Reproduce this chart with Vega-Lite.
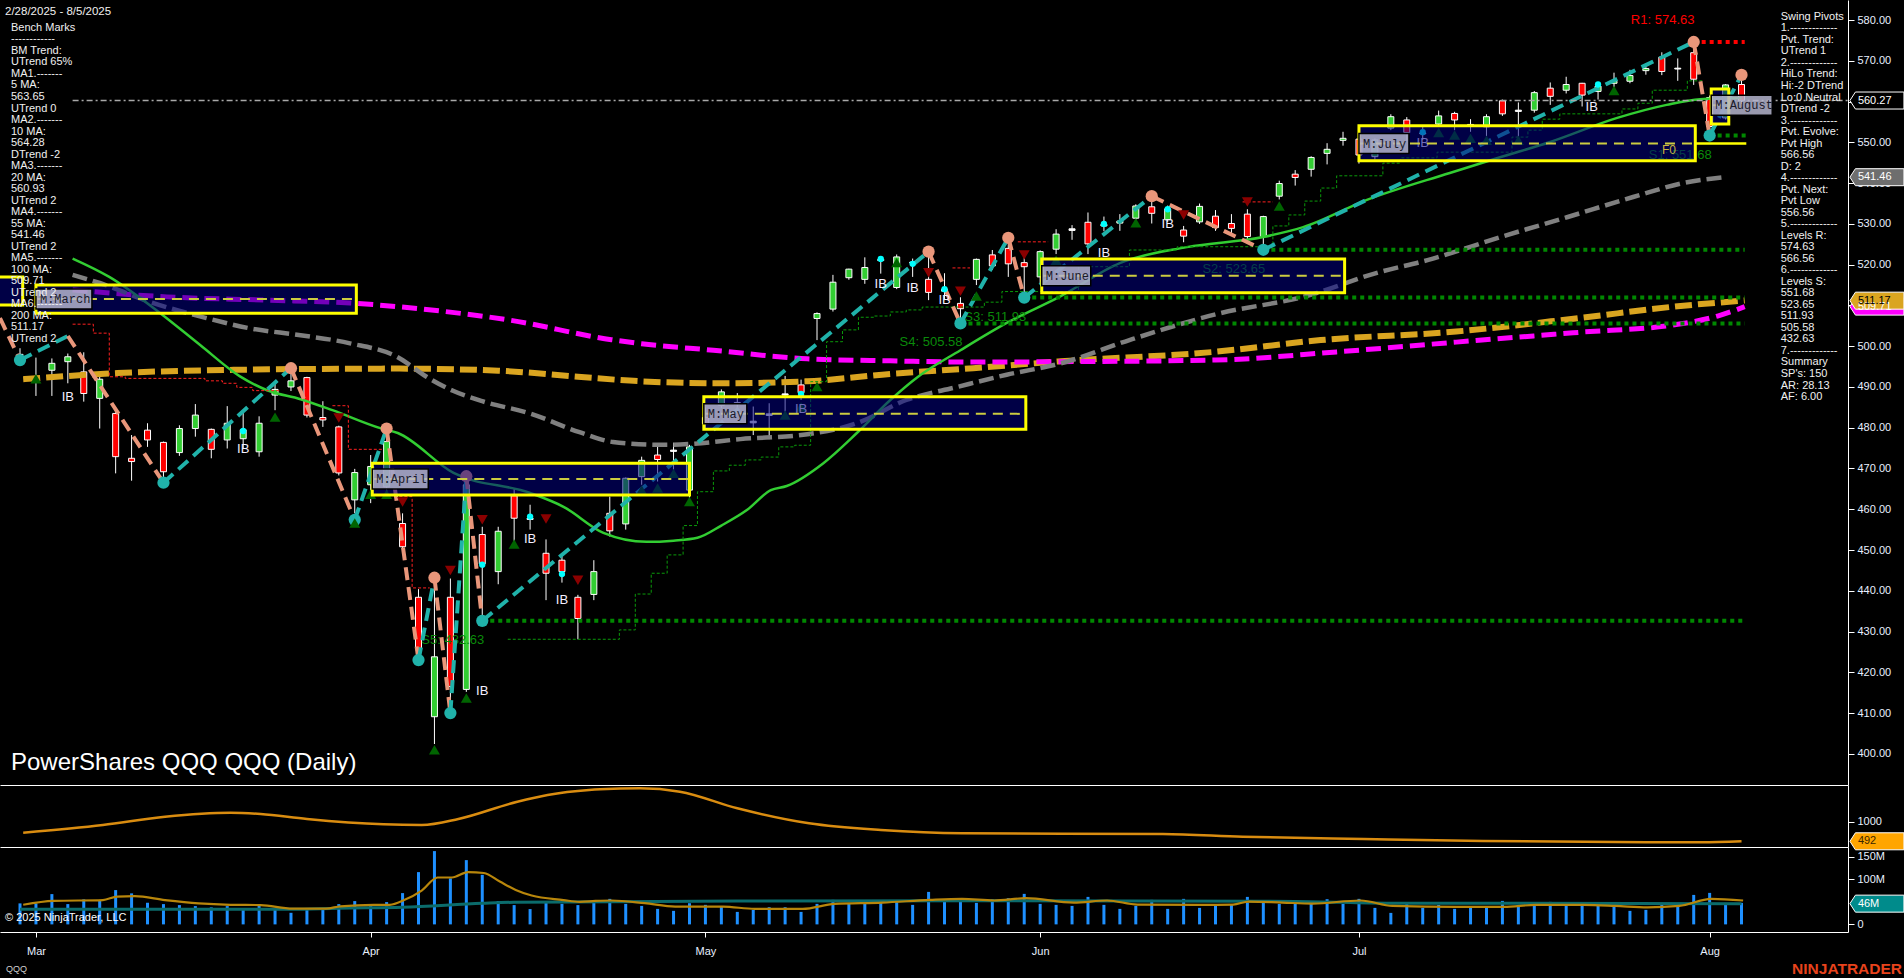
{
"$schema":"https://vega.github.io/schema/vega-lite/v6.json",
"background":"#000000",
"padding":0,
"spacing":0,
"bounds":"flush",
"config":{"view":{"stroke":null},"font":"Liberation Sans","concat":{"spacing":0},
 "axis":{"labelFont":"Liberation Sans","labelFontSize":11,"labelColor":"#e8f0ff","tickColor":"#ffffff","domainColor":"#ffffff","grid":false}},
"datasets":{
"one":[{}],
"bars":[
{"d":"2025-02-28","i":0,"o":498.0,"h":499.5,"l":496.8,"c":497.8,"v":46.6},
{"d":"2025-03-03","i":1,"o":492.5,"h":497.2,"l":487.8,"c":492.2,"v":46.6},
{"d":"2025-03-04","i":2,"o":494.1,"h":497.0,"l":487.8,"c":495.8,"v":67.2},
{"d":"2025-03-05","i":3,"o":496.2,"h":498.2,"l":490.9,"c":497.4,"v":45.0},
{"d":"2025-03-06","i":4,"o":493.7,"h":498.5,"l":486.4,"c":488.4,"v":55.4},
{"d":"2025-03-07","i":5,"o":487.2,"h":492.5,"l":479.8,"c":491.9,"v":53.9},
{"d":"2025-03-10","i":6,"o":483.5,"h":483.8,"l":468.8,"c":472.9,"v":76.1},
{"d":"2025-03-11","i":7,"o":472.5,"h":478.2,"l":467.0,"c":471.7,"v":68.8},
{"d":"2025-03-12","i":8,"o":479.4,"h":481.1,"l":475.3,"c":477.0,"v":48.0},
{"d":"2025-03-13","i":9,"o":476.4,"h":476.6,"l":467.2,"c":469.2,"v":45.0},
{"d":"2025-03-14","i":10,"o":473.9,"h":480.6,"l":473.1,"c":479.8,"v":42.8},
{"d":"2025-03-17","i":11,"o":479.8,"h":485.8,"l":477.8,"c":483.1,"v":40.6},
{"d":"2025-03-18","i":12,"o":479.6,"h":479.8,"l":472.5,"c":474.7,"v":37.7},
{"d":"2025-03-19","i":13,"o":477.0,"h":485.3,"l":474.9,"c":481.1,"v":40.6},
{"d":"2025-03-20","i":14,"o":477.3,"h":484.3,"l":475.0,"c":479.5,"v":35.5},
{"d":"2025-03-21","i":15,"o":474.1,"h":482.8,"l":472.9,"c":481.1,"v":43.5},
{"d":"2025-03-24","i":16,"o":488.0,"h":491.0,"l":484.3,"c":489.4,"v":34.6},
{"d":"2025-03-25","i":17,"o":490.0,"h":494.6,"l":489.0,"c":491.5,"v":25.7},
{"d":"2025-03-26","i":18,"o":492.3,"h":492.5,"l":482.5,"c":483.1,"v":33.3},
{"d":"2025-03-27","i":19,"o":482.5,"h":486.5,"l":480.2,"c":481.9,"v":33.3},
{"d":"2025-03-28","i":20,"o":480.2,"h":480.5,"l":468.3,"c":468.9,"v":45.0},
{"d":"2025-03-31","i":21,"o":462.3,"h":469.9,"l":459.0,"c":469.0,"v":51.7},
{"d":"2025-04-01","i":22,"o":466.0,"h":473.3,"l":461.5,"c":470.5,"v":41.3},
{"d":"2025-04-02","i":23,"o":465.5,"h":478.5,"l":464.0,"c":476.6,"v":49.5},
{"d":"2025-04-03","i":24,"o":456.5,"h":459.0,"l":449.5,"c":450.8,"v":69.4},
{"d":"2025-04-04","i":25,"o":438.4,"h":440.4,"l":423.5,"c":425.5,"v":116.0},
{"d":"2025-04-07","i":26,"o":409.1,"h":440.6,"l":402.4,"c":423.8,"v":162.6},
{"d":"2025-04-08","i":27,"o":438.4,"h":443.0,"l":411.6,"c":416.5,"v":102.0},
{"d":"2025-04-09","i":28,"o":415.8,"h":467.7,"l":415.2,"c":466.0,"v":142.6},
{"d":"2025-04-10","i":29,"o":453.8,"h":455.7,"l":433.2,"c":446.6,"v":110.0},
{"d":"2025-04-11","i":30,"o":444.7,"h":455.7,"l":441.6,"c":454.6,"v":51.7},
{"d":"2025-04-14","i":31,"o":463.3,"h":465.0,"l":452.0,"c":457.8,"v":42.8},
{"d":"2025-04-15","i":32,"o":457.5,"h":461.1,"l":455.0,"c":457.8,"v":34.0},
{"d":"2025-04-16","i":33,"o":449.2,"h":452.6,"l":437.7,"c":444.3,"v":48.8},
{"d":"2025-04-17","i":34,"o":447.5,"h":448.8,"l":442.0,"c":444.7,"v":45.7},
{"d":"2025-04-21","i":35,"o":438.4,"h":439.0,"l":428.1,"c":433.2,"v":42.8},
{"d":"2025-04-22","i":36,"o":439.1,"h":447.5,"l":437.7,"c":444.7,"v":53.2},
{"d":"2025-04-23","i":37,"o":459.0,"h":463.1,"l":453.3,"c":454.7,"v":56.6},
{"d":"2025-04-24","i":38,"o":456.4,"h":467.8,"l":455.0,"c":467.6,"v":45.5},
{"d":"2025-04-25","i":39,"o":468.0,"h":472.9,"l":466.0,"c":472.0,"v":41.0},
{"d":"2025-04-28","i":40,"o":473.3,"h":475.3,"l":466.8,"c":472.2,"v":34.4},
{"d":"2025-04-29","i":41,"o":474.2,"h":476.3,"l":468.8,"c":474.5,"v":30.0},
{"d":"2025-04-30","i":42,"o":464.7,"h":475.8,"l":461.0,"c":475.3,"v":47.0},
{"d":"2025-05-01","i":43,"o":482.5,"h":485.0,"l":479.5,"c":481.0,"v":43.3},
{"d":"2025-05-02","i":44,"o":485.5,"h":489.4,"l":484.8,"c":488.8,"v":39.5},
{"d":"2025-05-05","i":45,"o":486.2,"h":488.5,"l":484.0,"c":485.8,"v":27.7},
{"d":"2025-05-06","i":46,"o":481.2,"h":485.2,"l":478.2,"c":481.6,"v":32.2},
{"d":"2025-05-07","i":47,"o":483.0,"h":486.0,"l":477.2,"c":483.4,"v":38.1},
{"d":"2025-05-08","i":48,"o":488.0,"h":492.7,"l":484.0,"c":488.3,"v":38.1},
{"d":"2025-05-09","i":49,"o":490.5,"h":491.8,"l":486.8,"c":488.6,"v":27.7},
{"d":"2025-05-12","i":50,"o":506.8,"h":508.3,"l":501.5,"c":508.0,"v":45.5},
{"d":"2025-05-13","i":51,"o":509.1,"h":517.5,"l":508.5,"c":515.7,"v":54.4},
{"d":"2025-05-14","i":52,"o":516.8,"h":519.0,"l":516.3,"c":518.9,"v":47.0},
{"d":"2025-05-15","i":53,"o":516.4,"h":521.8,"l":515.3,"c":519.3,"v":49.9},
{"d":"2025-05-16","i":54,"o":521.0,"h":521.9,"l":517.8,"c":521.3,"v":48.4},
{"d":"2025-05-19","i":55,"o":514.4,"h":522.5,"l":514.0,"c":521.9,"v":52.1},
{"d":"2025-05-20","i":56,"o":520.6,"h":521.5,"l":517.0,"c":520.4,"v":43.3},
{"d":"2025-05-21","i":57,"o":516.4,"h":523.0,"l":511.3,"c":513.2,"v":72.1},
{"d":"2025-05-22","i":58,"o":513.5,"h":517.9,"l":511.3,"c":514.0,"v":55.9},
{"d":"2025-05-23","i":59,"o":510.5,"h":512.0,"l":505.6,"c":509.2,"v":58.1},
{"d":"2025-05-27","i":60,"o":516.4,"h":521.5,"l":515.0,"c":521.3,"v":47.7},
{"d":"2025-05-28","i":61,"o":522.4,"h":523.6,"l":518.7,"c":519.7,"v":55.9},
{"d":"2025-05-29","i":62,"o":524.0,"h":526.6,"l":517.0,"c":520.2,"v":58.1},
{"d":"2025-05-30","i":63,"o":520.5,"h":522.6,"l":512.0,"c":519.5,"v":67.7},
{"d":"2025-06-02","i":64,"o":517.0,"h":523.5,"l":515.5,"c":523.2,"v":45.5},
{"d":"2025-06-03","i":65,"o":523.8,"h":528.7,"l":522.6,"c":527.5,"v":43.3},
{"d":"2025-06-04","i":66,"o":528.4,"h":529.7,"l":526.1,"c":528.8,"v":41.0},
{"d":"2025-06-05","i":67,"o":530.4,"h":532.8,"l":522.6,"c":525.1,"v":61.0},
{"d":"2025-06-06","i":68,"o":529.5,"h":531.8,"l":528.2,"c":529.9,"v":43.3},
{"d":"2025-06-09","i":69,"o":530.2,"h":532.4,"l":528.3,"c":530.7,"v":34.4},
{"d":"2025-06-10","i":70,"o":531.4,"h":534.8,"l":530.5,"c":534.4,"v":41.0},
{"d":"2025-06-11","i":71,"o":534.2,"h":536.8,"l":530.1,"c":532.6,"v":54.4},
{"d":"2025-06-12","i":72,"o":531.0,"h":534.5,"l":530.5,"c":533.7,"v":34.4},
{"d":"2025-06-13","i":73,"o":528.5,"h":529.5,"l":525.5,"c":527.0,"v":56.6},
{"d":"2025-06-16","i":74,"o":530.5,"h":535.0,"l":530.0,"c":534.3,"v":36.6},
{"d":"2025-06-17","i":75,"o":531.9,"h":533.4,"l":528.3,"c":529.1,"v":43.3},
{"d":"2025-06-18","i":76,"o":530.1,"h":532.4,"l":527.7,"c":528.9,"v":43.3},
{"d":"2025-06-20","i":77,"o":532.4,"h":533.6,"l":526.0,"c":526.9,"v":61.0},
{"d":"2025-06-23","i":78,"o":526.9,"h":532.0,"l":523.6,"c":531.8,"v":49.9},
{"d":"2025-06-24","i":79,"o":536.8,"h":540.6,"l":536.0,"c":539.9,"v":45.5},
{"d":"2025-06-25","i":80,"o":542.2,"h":543.2,"l":539.4,"c":541.4,"v":45.5},
{"d":"2025-06-26","i":81,"o":543.4,"h":546.6,"l":541.6,"c":546.3,"v":45.5},
{"d":"2025-06-27","i":82,"o":547.3,"h":549.8,"l":544.6,"c":548.3,"v":55.9},
{"d":"2025-06-30","i":83,"o":550.5,"h":552.6,"l":549.2,"c":551.0,"v":45.5},
{"d":"2025-07-01","i":84,"o":550.8,"h":551.5,"l":544.8,"c":546.9,"v":56.6},
{"d":"2025-07-02","i":85,"o":546.5,"h":551.0,"l":545.8,"c":550.6,"v":36.6},
{"d":"2025-07-03","i":86,"o":553.5,"h":556.9,"l":553.0,"c":556.3,"v":25.5},
{"d":"2025-07-07","i":87,"o":555.5,"h":556.2,"l":550.3,"c":552.4,"v":45.5},
{"d":"2025-07-08","i":88,"o":552.3,"h":553.8,"l":550.6,"c":552.1,"v":36.6},
{"d":"2025-07-09","i":89,"o":554.5,"h":557.8,"l":554.0,"c":556.5,"v":43.3},
{"d":"2025-07-10","i":90,"o":557.1,"h":557.5,"l":553.0,"c":555.5,"v":34.4},
{"d":"2025-07-11","i":91,"o":554.4,"h":555.7,"l":552.6,"c":554.2,"v":38.8},
{"d":"2025-07-14","i":92,"o":553.8,"h":556.9,"l":551.5,"c":556.3,"v":36.6},
{"d":"2025-07-15","i":93,"o":560.2,"h":560.5,"l":556.5,"c":557.0,"v":52.1},
{"d":"2025-07-16","i":94,"o":557.6,"h":559.8,"l":550.0,"c":557.9,"v":43.3},
{"d":"2025-07-17","i":95,"o":557.9,"h":562.6,"l":557.3,"c":562.2,"v":41.0},
{"d":"2025-07-18","i":96,"o":563.3,"h":564.7,"l":559.2,"c":561.3,"v":49.9},
{"d":"2025-07-21","i":97,"o":562.8,"h":566.1,"l":562.0,"c":564.2,"v":43.3},
{"d":"2025-07-22","i":98,"o":564.5,"h":564.6,"l":558.8,"c":561.6,"v":43.3},
{"d":"2025-07-23","i":99,"o":562.5,"h":564.3,"l":560.5,"c":563.8,"v":41.0},
{"d":"2025-07-24","i":100,"o":564.5,"h":567.1,"l":563.5,"c":565.0,"v":41.0},
{"d":"2025-07-25","i":101,"o":565.0,"h":567.8,"l":564.5,"c":566.4,"v":30.0},
{"d":"2025-07-28","i":102,"o":567.6,"h":568.7,"l":566.6,"c":568.1,"v":32.2},
{"d":"2025-07-29","i":103,"o":570.9,"h":572.1,"l":566.5,"c":567.4,"v":45.5},
{"d":"2025-07-30","i":104,"o":568.2,"h":570.6,"l":565.1,"c":568.0,"v":45.5},
{"d":"2025-07-31","i":105,"o":572.0,"h":574.63,"l":564.1,"c":565.5,"v":65.4},
{"d":"2025-08-01","i":106,"o":561.0,"h":561.5,"l":550.4,"c":553.9,"v":69.9},
{"d":"2025-08-04","i":107,"o":556.0,"h":564.3,"l":555.6,"c":564.1,"v":47.7},
{"d":"2025-08-05","i":108,"o":564.2,"h":566.56,"l":559.4,"c":560.27,"v":47.7}
],
"ma20":[{"i":3.3,"p":521.5},{"i":5.6,"p":517.0},{"i":8.8,"p":508.1},{"i":11.3,"p":500.3},{"i":13.8,"p":492.6},{"i":15.5,"p":489.2},{"i":17.6,"p":487.0},{"i":19.6,"p":484.3},{"i":22.6,"p":479.9},{"i":23.7,"p":478.7},{"i":27.2,"p":468.9},{"i":32.0,"p":464.0},{"i":34.1,"p":460.6},{"i":36.6,"p":454.2},{"i":39.3,"p":452.0},{"i":41.0,"p":452.3},{"i":42.5,"p":453.0},{"i":44.0,"p":456.0},{"i":45.6,"p":459.8},{"i":47.1,"p":464.7},{"i":48.1,"p":465.7},{"i":50.4,"p":471.3},{"i":52.5,"p":478.7},{"i":54.6,"p":486.8},{"i":56.3,"p":492.4},{"i":59.0,"p":499.0},{"i":61.9,"p":505.7},{"i":65.3,"p":512.3},{"i":69.0,"p":520.4},{"i":73.2,"p":524.3},{"i":78.0,"p":526.8},{"i":80.5,"p":529.2},{"i":84.5,"p":535.9},{"i":89.7,"p":542.5},{"i":92.9,"p":546.4},{"i":96.0,"p":550.1},{"i":100.2,"p":556.0},{"i":103.3,"p":559.2},{"i":105.4,"p":560.6},{"i":108.0,"p":560.9}],
"ma55":[{"i":3.3,"p":517.5},{"i":5.0,"p":515.5},{"i":8.2,"p":510.8},{"i":11.7,"p":506.9},{"i":14.4,"p":504.4},{"i":17.6,"p":502.7},{"i":20.7,"p":500.7},{"i":23.7,"p":497.3},{"i":25.5,"p":492.5},{"i":27.2,"p":489.0},{"i":29.0,"p":486.5},{"i":32.0,"p":483.5},{"i":35.1,"p":478.9},{"i":37.2,"p":476.5},{"i":40.4,"p":475.8},{"i":42.0,"p":476.0},{"i":45.2,"p":477.2},{"i":49.4,"p":478.4},{"i":52.5,"p":481.1},{"i":55.6,"p":486.8},{"i":58.8,"p":490.0},{"i":61.9,"p":493.0},{"i":65.3,"p":495.8},{"i":69.6,"p":501.5},{"i":75.3,"p":508.1},{"i":80.5,"p":512.1},{"i":85.3,"p":518.2},{"i":88.3,"p":521.1},{"i":92.9,"p":526.8},{"i":97.1,"p":531.7},{"i":101.2,"p":536.6},{"i":104.3,"p":540.0},{"i":107.0,"p":541.5}],
"ma100":[{"i":3.3,"p":513.8},{"i":9.2,"p":512.1},{"i":15.5,"p":511.3},{"i":20.7,"p":510.6},{"i":25.0,"p":509.2},{"i":30.7,"p":506.4},{"i":37.1,"p":501.6},{"i":39.0,"p":500.6},{"i":43.5,"p":499.0},{"i":49.4,"p":496.9},{"i":54.6,"p":496.4},{"i":59.8,"p":496.1},{"i":65.3,"p":496.2},{"i":75.0,"p":496.6},{"i":82.6,"p":498.6},{"i":90.1,"p":501.0},{"i":97.8,"p":503.4},{"i":103.9,"p":505.3},{"i":106.5,"p":507.4},{"i":108.2,"p":509.7}],
"ma200":[{"i":0.2,"p":491.9},{"i":6.1,"p":493.4},{"i":13.4,"p":494.2},{"i":23.8,"p":494.5},{"i":30.0,"p":494.0},{"i":35.0,"p":492.5},{"i":38.9,"p":491.4},{"i":44.1,"p":490.9},{"i":49.4,"p":491.4},{"i":54.6,"p":493.2},{"i":59.8,"p":494.6},{"i":65.3,"p":496.3},{"i":74.9,"p":498.6},{"i":81.6,"p":501.5},{"i":90.1,"p":503.6},{"i":97.8,"p":506.9},{"i":104.0,"p":509.8},{"i":108.2,"p":511.2}],
"gstep":[{"i":30.6,"p":428.1},{"i":37.6,"p":430.4},{"i":38.6,"p":439.2},{"i":39.6,"p":444.3},{"i":40.6,"p":448.8},{"i":41.6,"p":456.0},{"i":42.5,"p":464.3},{"i":43.5,"p":469.4},{"i":44.5,"p":470.8},{"i":45.5,"p":472.1},{"i":46.5,"p":472.8},{"i":47.6,"p":475.3},{"i":48.6,"p":475.7},{"i":49.6,"p":491.3},{"i":50.6,"p":501.1},{"i":51.6,"p":504.0},{"i":52.6,"p":507.1},{"i":53.6,"p":507.4},{"i":54.6,"p":508.4},{"i":55.6,"p":508.9},{"i":56.6,"p":509.6},{"i":60.5,"p":510.8},{"i":61.6,"p":513.4},{"i":66.4,"p":519.5},{"i":69.6,"p":523.6},{"i":72.6,"p":524.4},{"i":78.6,"p":529.5},{"i":79.6,"p":532.2},{"i":80.6,"p":535.6},{"i":81.6,"p":538.8},{"i":82.6,"p":541.8},{"i":85.5,"p":544.9},{"i":86.6,"p":546.2},{"i":88.9,"p":547.6},{"i":93.6,"p":551.3},{"i":94.6,"p":553.0},{"i":95.5,"p":555.7},{"i":96.6,"p":557.0},{"i":100.5,"p":558.2},{"i":101.5,"p":559.6},{"i":102.4,"p":562.8},{"i":104.6,"p":565.1},{"i":105.6,"p":565.1}],
"rstep":[{"g":"a","i":3.3,"p":505.4},{"g":"a","i":4.6,"p":503.2},{"g":"a","i":5.6,"p":492.5},{"g":"a","i":6.6,"p":492.1},{"g":"a","i":11.6,"p":491.5},{"g":"a","i":12.7,"p":490.9},{"g":"a","i":13.6,"p":489.9},{"g":"a","i":14.6,"p":489.1},{"g":"a","i":16.3,"p":489.1},
 {"g":"b","i":19.6,"p":485.4},{"g":"b","i":20.6,"p":474.7},{"g":"b","i":22.8,"p":474.7},
 {"g":"c","i":23.8,"p":463.1},{"g":"c","i":24.6,"p":440.7},{"g":"c","i":25.7,"p":440.7},
 {"g":"d","i":58.5,"p":519.2},{"g":"d","i":59.6,"p":519.2},
 {"g":"e","i":62.6,"p":525.6},{"g":"e","i":64.5,"p":525.6},
 {"g":"f","i":76.7,"p":535.4},{"g":"f","i":78.6,"p":535.4}],
"lev":[{"side":"S","txt":"S5: 432.63","val":432.63,"i":29,"i2":108.2},{"side":"S","txt":"S4: 505.58","val":505.58,"i":59,"i2":108.2},{"side":"S","txt":"S3: 511.93","val":511.93,"i":63,"i2":108.2},{"side":"S","txt":"S2: 523.65","val":523.65,"i":78,"i2":108.2},{"side":"S","txt":"S1: 551.68","val":551.68,"i":106,"i2":108.3},{"side":"R","txt":"R1: 574.63","val":574.63,"i":105.5,"i2":108.2}],
"zig":[{"a":-1.255,"pa":506.9,"b":0,"pb":496.6,"dir":"dn"},{"a":0,"pa":496.6,"b":3,"pb":502.5,"dir":"up"},{"a":3,"pa":502.5,"b":9,"pb":466.5,"dir":"dn"},{"a":9,"pa":466.5,"b":17,"pb":494.6,"dir":"up"},{"a":17,"pa":494.6,"b":21,"pb":457.4,"dir":"dn"},{"a":21,"pa":457.4,"b":23,"pb":479.8,"dir":"up"},{"a":23,"pa":479.8,"b":25,"pb":423.0,"dir":"dn"},{"a":25,"pa":423.0,"b":26,"pb":443.2,"dir":"up"},{"a":26,"pa":443.2,"b":27,"pb":410.0,"dir":"dn"},{"a":27,"pa":410.0,"b":28,"pb":468.1,"dir":"up"},{"a":28,"pa":468.1,"b":29,"pb":432.63,"dir":"dn"},{"a":29,"pa":432.63,"b":57,"pb":523.2,"dir":"up"},{"a":57,"pa":523.2,"b":59,"pb":505.58,"dir":"dn"},{"a":59,"pa":505.58,"b":62,"pb":526.6,"dir":"up"},{"a":62,"pa":526.6,"b":63,"pb":511.93,"dir":"dn"},{"a":63,"pa":511.93,"b":71,"pb":536.8,"dir":"up"},{"a":71,"pa":536.8,"b":78,"pb":523.65,"dir":"dn"},{"a":78,"pa":523.65,"b":105,"pb":574.63,"dir":"up"},{"a":105,"pa":574.63,"b":106,"pb":551.68,"dir":"dn"},{"a":106,"pa":551.68,"b":108,"pb":566.56,"dir":"up"}],
"piv":[{"i":0,"p":496.6,"t":"L"},{"i":9,"p":466.5,"t":"L"},{"i":21,"p":457.4,"t":"L"},{"i":25,"p":423.0,"t":"L"},{"i":27,"p":410.0,"t":"L"},{"i":29,"p":432.63,"t":"L"},{"i":59,"p":505.58,"t":"L"},{"i":63,"p":511.93,"t":"L"},{"i":78,"p":523.65,"t":"L"},{"i":106,"p":551.68,"t":"L"},{"i":17,"p":494.6,"t":"H"},{"i":23,"p":479.8,"t":"H"},{"i":26,"p":443.2,"t":"H"},{"i":28,"p":468.1,"t":"H"},{"i":57,"p":523.2,"t":"H"},{"i":62,"p":526.6,"t":"H"},{"i":71,"p":536.8,"t":"H"},{"i":105,"p":574.63,"t":"H"},{"i":108,"p":566.56,"t":"H"}],
"tri":[{"i":1,"p":492.0,"t":"up"},{"i":16,"p":482.6,"t":"up"},{"i":21,"p":456.6,"t":"up"},{"i":22,"p":463.7,"t":"up"},{"i":23,"p":463.7,"t":"up"},{"i":26,"p":401.0,"t":"up"},{"i":28,"p":413.7,"t":"up"},{"i":31,"p":451.5,"t":"up"},{"i":39,"p":464.7,"t":"up"},{"i":40,"p":465.2,"t":"up"},{"i":41,"p":468.8,"t":"up"},{"i":42,"p":461.9,"t":"up"},{"i":48,"p":483.1,"t":"up"},{"i":49,"p":485.1,"t":"up"},{"i":50,"p":490.1,"t":"up"},{"i":55,"p":520.5,"t":"up"},{"i":60,"p":512.3,"t":"up"},{"i":65,"p":521.1,"t":"up"},{"i":70,"p":530.3,"t":"up"},{"i":79,"p":534.4,"t":"up"},{"i":89,"p":552.4,"t":"up"},{"i":90,"p":551.8,"t":"up"},{"i":91,"p":551.0,"t":"up"},{"i":92,"p":550.5,"t":"up"},{"i":94,"p":550.5,"t":"up"},{"i":100,"p":562.7,"t":"up"},
 {"i":20,"p":482.4,"t":"dn"},{"i":24,"p":461.8,"t":"dn"},{"i":27,"p":445.0,"t":"dn"},{"i":29,"p":457.4,"t":"dn"},{"i":33,"p":457.6,"t":"dn"},{"i":35,"p":442.6,"t":"dn"},{"i":57,"p":518.0,"t":"dn"},{"i":59,"p":513.5,"t":"dn"},{"i":63,"p":522.4,"t":"dn"},{"i":73,"p":532.2,"t":"dn"},{"i":77,"p":535.4,"t":"dn"}],
"ib":[{"i":3,"p":487.5},{"i":14,"p":474.8},{"i":29,"p":415.4},{"i":32,"p":452.7},{"i":34,"p":437.7},{"i":49,"p":484.6},{"i":54,"p":515.3},{"i":56,"p":514.3},{"i":58,"p":511.3},{"i":68,"p":522.8},{"i":72,"p":529.9},{"i":88,"p":549.8},{"i":98.6,"p":558.7}],
"cy":[{"i":14,"p":479.2},{"i":29,"p":446.4},{"i":32,"p":458.2},{"i":34,"p":444.1},{"i":49,"p":488.3},{"i":54,"p":521.4},{"i":56,"p":520.2},{"i":58,"p":514.0},{"i":68,"p":530.0},{"i":72,"p":533.6},{"i":88,"p":552.5},{"i":99,"p":564.2}],
"boxes":[{"m":"M:March","i1":1.0,"i2":21.1,"top":515.0,"bot":508.1,"mid":511.6},{"m":"M:April","i1":22.1,"i2":42.0,"top":471.3,"bot":463.5,"mid":467.4},{"m":"M:May","i1":42.9,"i2":63.1,"top":487.6,"bot":479.6,"mid":483.4},{"m":"M:June","i1":64.1,"i2":83.1,"top":521.4,"bot":513.1,"mid":517.3},{"m":"M:July","i1":84.0,"i2":105.1,"top":554.1,"bot":545.5,"mid":549.7},{"m":"M:August","i1":106.1,"i2":107.2,"top":563.1,"bot":554.5,"mid":559.1}],
"prevbox":[{"m":"M:February","i1":-3.0,"i2":0.17,"top":517.0,"bot":510.1,"mid":513.5}],
"tags":[{"k":"close","p":560.27,"t":"560.27"},{"k":"ma55","p":541.46,"t":"541.46"},{"k":"ma100","p":509.71,"t":"509.71"},{"k":"ma200","p":511.17,"t":"511.17"}],
"osc":[{"i":0.2,"v":715},{"i":5.2,"v":914},{"i":9.1,"v":1130},{"i":13.2,"v":1233},{"i":15.1,"v":1200},{"i":18.0,"v":1070},{"i":22.8,"v":932},{"i":25.2,"v":914},{"i":27.5,"v":1070},{"i":31.2,"v":1518},{"i":33.1,"v":1692},{"i":35.7,"v":1822},{"i":36.4,"v":1840},{"i":38.9,"v":1866},{"i":41.4,"v":1778},{"i":45.0,"v":1347},{"i":49.5,"v":958},{"i":54.0,"v":785},{"i":59.1,"v":699},{"i":71.7,"v":681},{"i":76.7,"v":611},{"i":84.3,"v":552},{"i":91.8,"v":500},{"i":102.0,"v":466},{"i":105.5,"v":466},{"i":108.0,"v":492}],
"vma":[{"i":0.2,"v":43.5},{"i":2.1,"v":52},{"i":5.2,"v":53.9},{"i":6.1,"v":61.7},{"i":7.2,"v":62.5},{"i":9.1,"v":53.9},{"i":11.2,"v":46.6},{"i":13.2,"v":43.5},{"i":15.1,"v":42.8},{"i":17.1,"v":35},{"i":19.2,"v":35},{"i":20.1,"v":40.1},{"i":22.2,"v":43.5},{"i":23.2,"v":43.5},{"i":24.1,"v":53.9},{"i":25.2,"v":75},{"i":26.2,"v":104},{"i":27.1,"v":104},{"i":28.1,"v":115.8},{"i":29.1,"v":114},{"i":30.1,"v":95},{"i":31.1,"v":76.5},{"i":32.1,"v":64},{"i":34.1,"v":54},{"i":35.1,"v":50},{"i":36.1,"v":52},{"i":37.1,"v":53},{"i":39.2,"v":47},{"i":41.1,"v":39.5},{"i":44.1,"v":39.5},{"i":46.1,"v":34.4},{"i":49.1,"v":34.4},{"i":51.1,"v":45.5},{"i":54.1,"v":48.4},{"i":57.1,"v":54.4},{"i":59.1,"v":56.6},{"i":61.1,"v":53},{"i":63.1,"v":58.1},{"i":66.1,"v":48.4},{"i":68.2,"v":53},{"i":70.1,"v":44},{"i":74.1,"v":43.3},{"i":76.1,"v":44},{"i":77.1,"v":50.7},{"i":79.2,"v":48.4},{"i":81.1,"v":46.2},{"i":84.1,"v":53},{"i":86.1,"v":41},{"i":90.1,"v":38.8},{"i":93.1,"v":38.8},{"i":95.1,"v":43.3},{"i":98.1,"v":43.3},{"i":100.1,"v":41},{"i":102.1,"v":37.7},{"i":104.1,"v":41},{"i":106.1,"v":56.6},{"i":108.1,"v":53}],
"vlong":[{"i":0,"v":33.5},{"i":17,"v":33.5},{"i":20,"v":36},{"i":24,"v":38},{"i":29,"v":46.8},{"i":31,"v":49},{"i":37,"v":50},{"i":45,"v":52},{"i":60,"v":52.5},{"i":80,"v":51},{"i":86,"v":47},{"i":108,"v":46}]
},
"vconcat":[
{"width":1848,"height":785,
 "resolve":{"scale":{"fill":"independent","color":"independent","shape":"independent","stroke":"independent"}},
 "layer":[
  {"data":{"name":"bars"},"mark":{"type":"rule","color":"#ffffff","strokeWidth":1},
   "encoding":{"x":{"field":"i","type":"quantitative","scale":{"domain":[-1.255,114.68],"nice":false,"zero":false,"padding":0},"axis":{"orient":"bottom","labels":false,"ticks":false,"domain":true,"title":null}},
    "y":{"field":"l","type":"quantitative","scale":{"domain":[392.35,584.93],"nice":false,"zero":false,"padding":0},"axis":{"orient":"right","values":[400,410,420,430,440,450,460,470,480,490,500,510,520,530,540,550,560,570,580],"format":".2f","tickSize":6,"labelPadding":3,"title":null}},
    "y2":{"field":"h"}}},
  {"data":{"name":"bars"},"mark":{"type":"bar","width":6,"stroke":"#ffffff","strokeWidth":1},
   "encoding":{"x":{"field":"i","type":"quantitative"},"y":{"field":"o","type":"quantitative"},"y2":{"field":"c"},
    "fill":{"condition":[{"test":"abs(datum.c-datum.o)<0.5","value":"#ffffff"},{"test":"datum.c>datum.o","value":"#32cd32"}],"value":"#ff0000"}}},
  {"data":{"name":"ma200"},"mark":{"type":"line","color":"#daa520","strokeWidth":6,"strokeDash":[17,6],"interpolate":"monotone"},
   "encoding":{"x":{"field":"i","type":"quantitative"},"y":{"field":"p","type":"quantitative"}}},
  {"data":{"name":"ma100"},"mark":{"type":"line","color":"#ff00ff","strokeWidth":5,"strokeDash":[15,7],"interpolate":"monotone"},
   "encoding":{"x":{"field":"i","type":"quantitative"},"y":{"field":"p","type":"quantitative"}}},
  {"data":{"name":"ma55"},"mark":{"type":"line","color":"#808080","strokeWidth":4.5,"strokeDash":[15,6],"interpolate":"monotone"},
   "encoding":{"x":{"field":"i","type":"quantitative"},"y":{"field":"p","type":"quantitative"}}},
  {"data":{"name":"ma20"},"mark":{"type":"line","color":"#32cd32","strokeWidth":2.5,"interpolate":"monotone"},
   "encoding":{"x":{"field":"i","type":"quantitative"},"y":{"field":"p","type":"quantitative"}}},
  {"data":{"name":"gstep"},"mark":{"type":"line","color":"#0a9a0a","strokeWidth":1,"strokeDash":[3,2],"interpolate":"step-after"},
   "encoding":{"x":{"field":"i","type":"quantitative"},"y":{"field":"p","type":"quantitative"}}},
  {"data":{"name":"rstep"},"mark":{"type":"line","color":"#ff2020","strokeWidth":1,"strokeDash":[3,2],"interpolate":"step-after"},
   "encoding":{"x":{"field":"i","type":"quantitative"},"y":{"field":"p","type":"quantitative"},"detail":{"field":"g"}}},
  {"data":{"name":"lev"},"mark":{"type":"rule","strokeWidth":4,"strokeDash":[4,4]},
   "encoding":{"x":{"field":"i","type":"quantitative"},"x2":{"field":"i2"},"y":{"field":"val","type":"quantitative"},
    "color":{"field":"side","type":"nominal","scale":{"domain":["S","R"],"range":["#008800","#ff0000"]},"legend":null}}},
  {"data":{"name":"lev"},"transform":[{"filter":"datum.side=='S'"}],"mark":{"type":"text","align":"right","baseline":"middle","fontSize":13,"dx":2,"dy":19,"color":"#0a8a0a"},
   "encoding":{"x":{"field":"i","type":"quantitative"},"y":{"field":"val","type":"quantitative"},"text":{"field":"txt"}}},
  {"data":{"name":"zig"},"mark":{"type":"rule","strokeWidth":4,"strokeDash":[13,7],"clip":true},
   "encoding":{"x":{"field":"a","type":"quantitative"},"x2":{"field":"b"},"y":{"field":"pa","type":"quantitative"},"y2":{"field":"pb"},
    "color":{"field":"dir","type":"nominal","scale":{"domain":["up","dn"],"range":["#20b2aa","#e9967a"]},"legend":null}}},
  {"data":{"name":"piv"},"mark":{"type":"point","shape":"circle","filled":true,"size":150,"opacity":1},
   "encoding":{"x":{"field":"i","type":"quantitative"},"y":{"field":"p","type":"quantitative"},
    "fill":{"field":"t","type":"nominal","scale":{"domain":["H","L"],"range":["#e9967a","#20b2aa"]},"legend":null}}},
  {"data":{"name":"tri"},"mark":{"type":"point","filled":true,"size":120,"opacity":1},
   "encoding":{"x":{"field":"i","type":"quantitative"},"y":{"field":"p","type":"quantitative"},
    "shape":{"field":"t","type":"nominal","scale":{"domain":["up","dn"],"range":["triangle-up","triangle-down"]},"legend":null},
    "color":{"field":"t","type":"nominal","scale":{"domain":["up","dn"],"range":["#006400","#8b0000"]},"legend":null}}},
  {"data":{"name":"cy"},"mark":{"type":"point","filled":true,"size":40,"color":"#00ffff","opacity":1},
   "encoding":{"x":{"field":"i","type":"quantitative"},"y":{"field":"p","type":"quantitative"}}},
  {"data":{"name":"ib"},"mark":{"type":"text","text":"IB","fontSize":13,"color":"#f4efff","baseline":"middle","align":"center"},
   "encoding":{"x":{"field":"i","type":"quantitative"},"y":{"field":"p","type":"quantitative"}}},
  {"data":{"name":"one"},"mark":{"type":"rule","color":"#a8a8a8","strokeWidth":1.5,"strokeDash":[6,3,2,3]},
   "encoding":{"x":{"datum":3.3,"type":"quantitative"},"x2":{"datum":114.68},"y":{"datum":560.27,"type":"quantitative"}}},
  {"data":{"name":"prevbox"},"mark":{"type":"rect","fill":"#000080","fillOpacity":0.55,"stroke":"#ffff00","strokeWidth":3,"clip":true},
   "encoding":{"x":{"field":"i1","type":"quantitative"},"x2":{"field":"i2"},"y":{"field":"top","type":"quantitative"},"y2":{"field":"bot"}}},
  {"data":{"name":"boxes"},"mark":{"type":"rect","fill":"#000080","fillOpacity":0.55,"stroke":"#ffff00","strokeWidth":3},
   "encoding":{"x":{"field":"i1","type":"quantitative"},"x2":{"field":"i2"},"y":{"field":"top","type":"quantitative"},"y2":{"field":"bot"}}},
  {"data":{"name":"boxes"},"mark":{"type":"rule","color":"#cccc40","strokeWidth":2,"strokeDash":[10,7]},
   "encoding":{"x":{"field":"i1","type":"quantitative"},"x2":{"field":"i2"},"y":{"field":"mid","type":"quantitative"}}},
  {"data":{"name":"one"},"mark":{"type":"rule","color":"#ffff00","strokeWidth":2.5},
   "encoding":{"x":{"datum":105.1,"type":"quantitative"},"x2":{"datum":108.3},"y":{"datum":549.7,"type":"quantitative"}}},
  {"data":{"name":"boxes"},"mark":{"type":"point","filled":true,"size":400,"fill":"#b4b4cc","fillOpacity":0.85,"stroke":"#000000","strokeWidth":1.5,"strokeOpacity":1},
   "encoding":{"x":{"field":"i1","type":"quantitative"},"y":{"field":"mid","type":"quantitative"},
    "shape":{"field":"m","type":"nominal","scale":{"domain":["M:March","M:April","M:May","M:June","M:July","M:August"],"range":["M0,-1H5.6V1H0Z","M0,-1H5.6V1H0Z","M0,-1H4.3V1H0Z","M0,-1H4.9V1H0Z","M0,-1H5.0V1H0Z","M0,-1H6.1V1H0Z"]},"legend":null}}},
  {"data":{"name":"boxes"},"mark":{"type":"text","font":"Liberation Mono","fontSize":12,"color":"#1a1a2a","align":"left","baseline":"middle","dx":4},
   "encoding":{"x":{"field":"i1","type":"quantitative"},"y":{"field":"mid","type":"quantitative"},"text":{"field":"m"}}},
  {"data":{"name":"lev"},"transform":[{"filter":"datum.side=='R'"}],"mark":{"type":"text","align":"center","baseline":"middle","fontSize":13,"dx":-39,"dy":-22,"color":"#ff0000"},
   "encoding":{"x":{"field":"i","type":"quantitative"},"y":{"field":"val","type":"quantitative"},"text":{"field":"txt"}}},
  {"data":{"name":"one"},"mark":{"type":"text","text":"F0","fontSize":12,"color":"#c8b440","align":"center","baseline":"middle"},
   "encoding":{"x":{"datum":103.45,"type":"quantitative"},"y":{"datum":548.1,"type":"quantitative"}}},
  {"data":{"name":"one"},"mark":{"type":"text","text":"2/28/2025 - 8/5/2025","fontSize":11.5,"color":"#f0f0f0","align":"left","baseline":"top"},
   "encoding":{"x":{"datum":-0.94,"type":"quantitative"},"y":{"datum":583.46,"type":"quantitative"}}},
  {"data":{"name":"one"},"mark":{"type":"text","fontSize":11,"lineHeight":11.52,"color":"#f0f0f0","align":"left","baseline":"top",
    "text":["Bench Marks","------------","BM Trend:","UTrend 65%","MA1.-------","5 MA:","563.65","UTrend 0","MA2.-------","10 MA:","564.28","DTrend -2","MA3.-------","20 MA:","560.93","UTrend 2","MA4.-------","55 MA:","541.46","UTrend 2","MA5.-------","100 MA:","509.71","UTrend 2","MA6.-------","200 MA:","511.17","UTrend 2"]},
   "encoding":{"x":{"datum":-0.565,"type":"quantitative"},"y":{"datum":579.56,"type":"quantitative"}}},
  {"data":{"name":"one"},"mark":{"type":"text","fontSize":11,"lineHeight":11.52,"color":"#f0f0f0","align":"left","baseline":"top",
    "text":["Swing Pivots","1.-------------","Pvt. Trend:","UTrend 1","2.-------------","HiLo Trend:","Hi:-2 DTrend","Lo:0 Neutral","DTrend -2","3.-------------","Pvt. Evolve:","Pvt High","566.56","D: 2","4.-------------","Pvt. Next:","Pvt Low","556.56","5.-------------","Levels R:","574.63","566.56","6.-------------","Levels S:","551.68","523.65","511.93","505.58","432.63","7.-------------","Summary","SP's: 150","AR: 28.13","AF: 6.00"]},
   "encoding":{"x":{"datum":110.46,"type":"quantitative"},"y":{"datum":582.26,"type":"quantitative"}}},
  {"data":{"name":"one"},"mark":{"type":"text","text":"PowerShares QQQ QQQ (Daily)","fontSize":24,"color":"#ffffff","align":"left","baseline":"alphabetic"},
   "encoding":{"x":{"datum":-0.565,"type":"quantitative"},"y":{"datum":396.02,"type":"quantitative"}}},
  {"data":{"name":"tags"},"mark":{"type":"point","shape":"M0,0L0.55,-0.85H5.4V0.85H0.55Z","size":400,"filled":true,"opacity":1,"stroke":"#ffffff","strokeWidth":1},
   "encoding":{"x":{"datum":114.8,"type":"quantitative"},"y":{"field":"p","type":"quantitative"},
    "fill":{"field":"k","type":"nominal","scale":{"domain":["close","ma55","ma100","ma200"],"range":["#000000","#6e6e6e","#ff00ff","#daa520"]},"legend":null}}},
  {"data":{"name":"tags"},"mark":{"type":"text","align":"left","baseline":"middle","fontSize":11},
   "encoding":{"x":{"datum":115.3,"type":"quantitative"},"y":{"field":"p","type":"quantitative"},"text":{"field":"t"},
    "color":{"field":"k","type":"nominal","scale":{"domain":["close","ma55","ma100","ma200"],"range":["#ffffff","#ffffff","#ffffff","#000000"]},"legend":null}}}
 ]},
{"width":1848,"height":62,
 "layer":[
  {"data":{"name":"osc"},"mark":{"type":"line","color":"#d98c10","strokeWidth":2.5,"interpolate":"monotone"},
   "encoding":{"x":{"field":"i","type":"quantitative","scale":{"domain":[-1.255,114.68],"nice":false,"zero":false,"padding":0},"axis":{"orient":"bottom","labels":false,"ticks":false,"domain":true,"title":null}},
    "y":{"field":"v","type":"quantitative","scale":{"domain":[344,1951],"nice":false,"zero":false,"padding":0},"axis":{"orient":"right","values":[1000],"format":"d","tickSize":6,"labelPadding":3,"title":null}}}},
  {"data":{"name":"one"},"mark":{"type":"point","shape":"M0,0L0.55,-0.85H5.4V0.85H0.55Z","size":400,"filled":true,"opacity":1,"fill":"#ffa500","stroke":"#ffffff","strokeWidth":1},
   "encoding":{"x":{"datum":114.8,"type":"quantitative"},"y":{"datum":492,"type":"quantitative"}}},
  {"data":{"name":"one"},"mark":{"type":"text","text":"492","align":"left","baseline":"middle","fontSize":11,"color":"#3a2600"},
   "encoding":{"x":{"datum":115.3,"type":"quantitative"},"y":{"datum":492,"type":"quantitative"}}}
 ]},
{"width":1848,"height":85,
 "layer":[
  {"data":{"name":"bars"},"mark":{"type":"bar","width":3,"color":"#1e90ff"},
   "encoding":{"x":{"field":"i","type":"quantitative","scale":{"domain":[-1.255,114.68],"nice":false,"zero":false,"padding":0},
     "axis":{"orient":"bottom","values":[1,22,43,64,84,106],"labelExpr":"datum.value==1?'Mar':datum.value==22?'Apr':datum.value==43?'May':datum.value==64?'Jun':datum.value==84?'Jul':'Aug'","tickSize":5,"labelPadding":8,"title":null}},
    "y":{"field":"v","type":"quantitative","scale":{"domain":[-16.9,171.7],"nice":false,"zero":false,"padding":0},"axis":{"orient":"right","values":[0,100,150],"labelExpr":"datum.value==0?'0':datum.value+'M'","tickSize":6,"labelPadding":3,"title":null}}}},
  {"data":{"name":"vlong"},"mark":{"type":"line","color":"#0b6b6b","strokeWidth":3,"interpolate":"monotone"},
   "encoding":{"x":{"field":"i","type":"quantitative"},"y":{"field":"v","type":"quantitative"}}},
  {"data":{"name":"vma"},"mark":{"type":"line","color":"#b8860b","strokeWidth":2.2,"interpolate":"monotone"},
   "encoding":{"x":{"field":"i","type":"quantitative"},"y":{"field":"v","type":"quantitative"}}},
  {"data":{"name":"one"},"mark":{"type":"point","shape":"M0,0L0.55,-0.85H5.4V0.85H0.55Z","size":400,"filled":true,"opacity":1,"fill":"#008b8b","stroke":"#ffffff","strokeWidth":1},
   "encoding":{"x":{"datum":114.8,"type":"quantitative"},"y":{"datum":46,"type":"quantitative"}}},
  {"data":{"name":"one"},"mark":{"type":"text","text":"46M","align":"left","baseline":"middle","fontSize":11,"color":"#ffffff"},
   "encoding":{"x":{"datum":115.3,"type":"quantitative"},"y":{"datum":46,"type":"quantitative"}}},
  {"data":{"name":"one"},"mark":{"type":"text","text":"© 2025 NinjaTrader, LLC","align":"left","baseline":"middle","fontSize":11,"color":"#ffffff"},
   "encoding":{"x":{"datum":-0.94,"type":"quantitative"},"y":{"datum":14.2,"type":"quantitative"}}},
  {"data":{"name":"one"},"mark":{"type":"text","text":"QQQ","align":"left","baseline":"middle","fontSize":9,"color":"#d0d0d0"},
   "encoding":{"x":{"datum":-0.88,"type":"quantitative"},"y":{"datum":-100,"type":"quantitative"}}},
  {"data":{"name":"one"},"mark":{"type":"text","text":"NINJATRADER","align":"right","baseline":"middle","fontSize":15.5,"fontWeight":"bold","color":"#e8431c"},
   "encoding":{"x":{"datum":118.07,"type":"quantitative"},"y":{"datum":-100,"type":"quantitative"}}}
 ]}
]
}
